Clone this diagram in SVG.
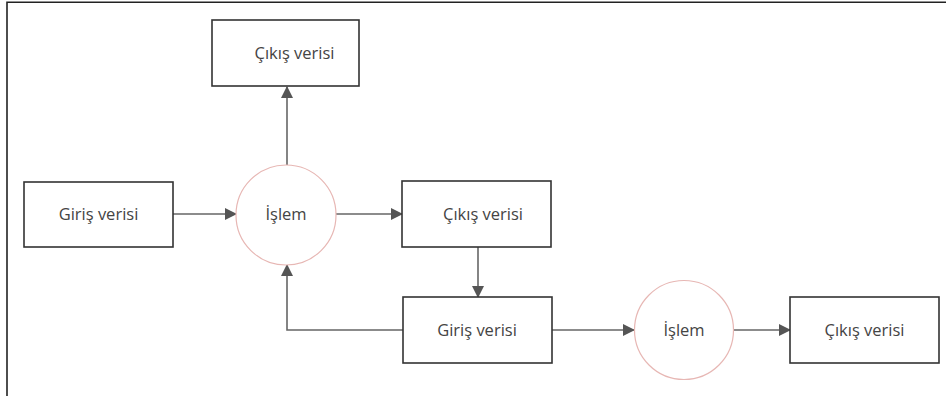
<svg xmlns="http://www.w3.org/2000/svg" width="946" height="396" viewBox="0 0 946 396">
  <style>
    .box { fill: #ffffff; stroke: #333333; stroke-width: 1.6; }
    .proc { fill: #ffffff; stroke: #e7b7b4; stroke-width: 1.2; }
    .lbl { font-family: "Open Sans", "Liberation Sans", sans-serif; font-size: 16.5px; fill: #444444; text-anchor: middle; }
    .edge { fill: none; stroke: #666666; stroke-width: 1.6; marker-end: url(#arrow); }
    .frame { stroke: #222222; stroke-width: 1.6; fill: none; }
  </style>
  <defs>
    <marker id="arrow" viewBox="0 0 12 12" refX="11" refY="6" markerWidth="12" markerHeight="12" markerUnits="userSpaceOnUse" orient="auto">
      <path d="M0,0 L12,6 L0,12 z" fill="#555555"/>
    </marker>
  </defs>
  <rect width="946" height="396" fill="#ffffff"/>
  <!-- page frame: top and left edges -->
  <path class="frame" d="M7,396 L7,2.3 L946,2.3"/>

  <g id="connectors">
    <path class="edge" d="M173,214 L236,214"/>
    <path class="edge" d="M287,165 L287,87"/>
    <path class="edge" d="M336,214 L402,214"/>
    <path class="edge" d="M478,247 L478,297"/>
    <path class="edge" d="M403,330 L287,330 L287,265"/>
    <path class="edge" d="M552,330 L634,330"/>
    <path class="edge" d="M733,330 L790,330"/>
  </g>

  <g id="input1">
    <rect class="box" x="24" y="182" width="149" height="65"/>
    <text class="lbl" x="98.5" y="220">Giriş verisi</text>
  </g>
  <g id="process1">
    <circle class="proc" cx="286" cy="215" r="50"/>
    <text class="lbl" x="286" y="220">İşlem</text>
  </g>
  <g id="output_top">
    <rect class="box" x="212" y="20" width="147" height="66"/>
    <text class="lbl" x="294.5" y="59">Çıkış verisi</text>
  </g>
  <g id="output1">
    <rect class="box" x="402" y="181" width="149" height="66"/>
    <text class="lbl" x="483" y="220">Çıkış verisi</text>
  </g>
  <g id="input2">
    <rect class="box" x="403" y="297" width="149" height="66"/>
    <text class="lbl" x="477" y="336">Giriş verisi</text>
  </g>
  <g id="process2">
    <circle class="proc" cx="684" cy="330" r="49.5"/>
    <text class="lbl" x="684" y="336">İşlem</text>
  </g>
  <g id="output2">
    <rect class="box" x="790" y="297" width="149" height="66"/>
    <text class="lbl" x="864.5" y="336">Çıkış verisi</text>
  </g>
</svg>
